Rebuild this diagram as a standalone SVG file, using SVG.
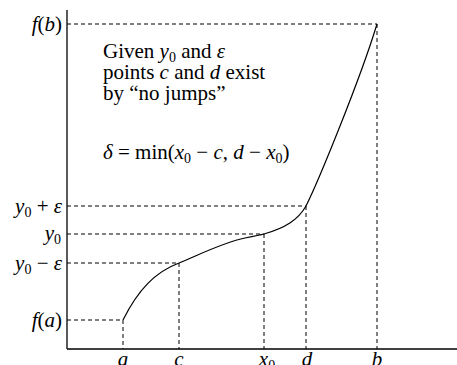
<svg xmlns="http://www.w3.org/2000/svg" width="457" height="365" viewBox="0 0 457 365">
<style>
.ax{stroke:#000;stroke-width:1.3;fill:none}
.dash{stroke:#000;stroke-width:1;stroke-dasharray:4 3;fill:none}
.cv{stroke:#000;stroke-width:1.2;fill:none}
text{font-family:"Liberation Serif","Times New Roman",serif;font-size:21px;fill:#000}
.m{font-style:italic}
.r{text-anchor:end}
.c{text-anchor:middle}
.s{font-size:14px;font-style:normal}
</style>
<rect width="457" height="365" fill="#fff"/>
<g id="axes">
<line class="ax" x1="67" y1="10" x2="67" y2="349"/>
<line class="ax" x1="67" y1="349" x2="457" y2="349"/>
</g>
<g id="guides">
<line class="dash" x1="67" y1="24" x2="377" y2="24"/>
<line class="dash" x1="377" y1="24" x2="377" y2="349"/>
<line class="dash" x1="67" y1="206" x2="306" y2="206"/>
<line class="dash" x1="306" y1="206" x2="306" y2="349"/>
<line class="dash" x1="67" y1="234" x2="264" y2="234"/>
<line class="dash" x1="264" y1="234" x2="264" y2="349"/>
<line class="dash" x1="67" y1="263" x2="179" y2="263"/>
<line class="dash" x1="179" y1="263" x2="179" y2="349"/>
<line class="dash" x1="67" y1="320" x2="123" y2="320"/>
<line class="dash" x1="123" y1="320" x2="123" y2="349"/>
</g>
<g id="curve">
<path class="cv" d="M123,320 C138,290 155,272 179,263 C205,252 225,242 245,238 C255,236 260,235 264,234 C285,228 298,220 306,206 C318,182 360,80 377,24"/>
</g>
<g id="y-labels">
<text x="62" y="31" class="r"><tspan class="m">f</tspan>(<tspan class="m">b</tspan>)</text>
<text x="62" y="213" class="r"><tspan class="m">y</tspan><tspan class="s" dy="4">0</tspan><tspan dy="-4"> + </tspan><tspan class="m">ε</tspan></text>
<text x="61" y="240" class="r"><tspan class="m">y</tspan><tspan class="s" dy="4">0</tspan></text>
<text x="62" y="270" class="r"><tspan class="m">y</tspan><tspan class="s" dy="4">0</tspan><tspan dy="-4"> − </tspan><tspan class="m">ε</tspan></text>
<text x="62" y="327" class="r"><tspan class="m">f</tspan>(<tspan class="m">a</tspan>)</text>
</g>
<g id="x-labels">
<text x="123" y="366" class="c m">a</text>
<text x="179" y="366" class="c m">c</text>
<text x="267" y="366" class="c"><tspan class="m">x</tspan><tspan class="s" dy="4">0</tspan></text>
<text x="307" y="366" class="c m">d</text>
<text x="377" y="366" class="c m">b</text>
</g>
<g id="note">
<text x="103" y="58">Given <tspan class="m">y</tspan><tspan class="s" dy="4">0</tspan><tspan dy="-4"> and </tspan><tspan class="m">ε</tspan></text>
<text x="103" y="79">points <tspan class="m">c</tspan> and <tspan class="m">d</tspan> exist</text>
<text x="103" y="100">by “no jumps”</text>
<text x="103" y="159"><tspan class="m">δ</tspan> = min(<tspan class="m">x</tspan><tspan class="s" dy="4">0</tspan><tspan dy="-4"> − </tspan><tspan class="m">c</tspan>, <tspan class="m">d</tspan> − <tspan class="m">x</tspan><tspan class="s" dy="4">0</tspan><tspan dy="-4">)</tspan></text>
</g>
</svg>
